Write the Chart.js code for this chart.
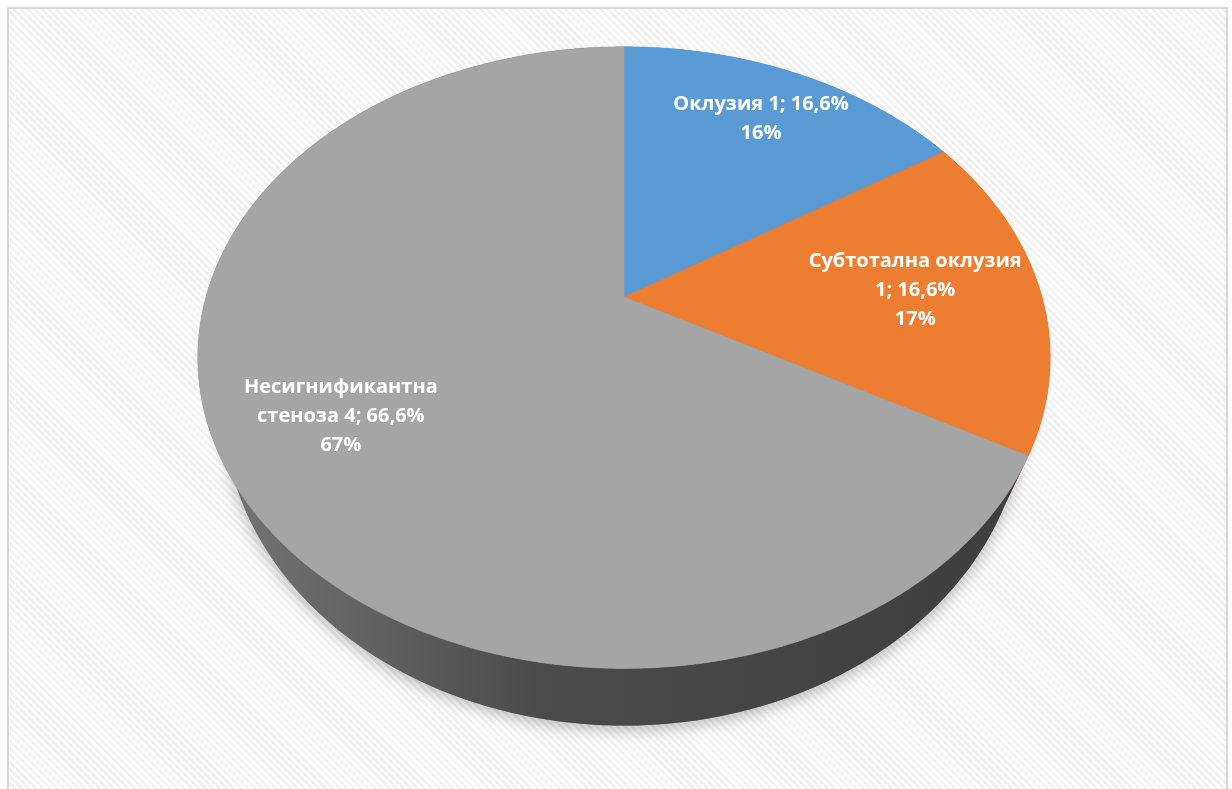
<!DOCTYPE html>
<html>
<head>
<meta charset="utf-8">
<script src="https://cdn.jsdelivr.net/npm/chart.js@4.4.1/dist/chart.umd.min.js"></script>
<style>
  body { margin: 0; background: #fff; overflow: hidden; }
  .frame {
    position: absolute; left: 7px; top: 7px; width: 1217px; height: 800px;
    border: 2px solid #d9d9d9;
    background: repeating-linear-gradient(45deg, #ffffff 0 2.5px, #f0f0f0 2.5px 5px);
  }
  #chart { position: absolute; left: 0; top: 0; }
</style>
</head>
<body>
<div class="frame"></div>
<canvas id="chart" width="1232" height="789"></canvas>
<script>
  const categories = [
    ['Оклузия 1; 16,6%'],
    ['Субтотална оклузия', '1; 16,6%'],
    ['Несигнификантна', 'стеноза 4; 66,6%']
  ];
  const shares = [16, 17, 67];

  const topColors = ['#5b9bd5', '#ed7d31', '#a5a5a5'];
  const sideColors = ['#3f6f9c', '#a9541c', null];
  const labelRadius = [0.77, 0.70, 0.73];

  // tilted disc in perspective: centre, radii, perspective factor, thickness,
  // and how far the lower rim pulls in towards the middle
  const CX = 624, CY = 297, RX = 418, RY = 299, K = 0.195, DEPTH = 46, PULL = 0.06;

  function project(u, v) {
    const w = 1 - K * v;
    const x = CX + RX * u / w, y = CY + RY * v / w;
    return [x, y, x - (x - CX) * PULL, y + DEPTH / w];
  }

  function arcPoints(a0, a1, r) {
    const n = Math.max(2, Math.ceil((a1 - a0) / 0.01));
    const pts = [];
    for (let i = 0; i <= n; i++) {
      const a = a0 + (a1 - a0) * i / n;
      pts.push(project(r * Math.cos(a), r * Math.sin(a)));
    }
    return pts;
  }

  function sideFill(ctx, i) {
    if (sideColors[i]) return sideColors[i];
    const g = ctx.createLinearGradient(210, 0, 1030, 0);
    g.addColorStop(0, '#767676');
    g.addColorStop(0.4, '#4b4b4b');
    g.addColorStop(1, '#3e3e3e');
    return g;
  }

  const pie3d = {
    id: 'pie3d',
    beforeDatasetsDraw(chart) {
      const ctx = chart.ctx;
      const arcs = chart.getDatasetMeta(0).data;

      // soft shadow under the whole disc
      ctx.save();
      ctx.shadowColor = 'rgba(0,0,0,0.28)';
      ctx.shadowBlur = 16;
      ctx.shadowOffsetY = 4;
      ctx.fillStyle = '#777';
      ctx.beginPath();
      arcPoints(-Math.PI, Math.PI, 1).forEach(([x, y, bx, by], j) => j ? ctx.lineTo(bx, by) : ctx.moveTo(bx, by));
      ctx.closePath();
      ctx.fill();
      ctx.restore();

      // outer walls
      arcs.forEach((arc, i) => {
        const pts = arcPoints(arc.startAngle, arc.endAngle, 1);
        ctx.beginPath();
        pts.forEach(([x, y], j) => j ? ctx.lineTo(x, y) : ctx.moveTo(x, y));
        for (let j = pts.length - 1; j >= 0; j--) ctx.lineTo(pts[j][2], pts[j][3]);
        ctx.closePath();
        ctx.fillStyle = sideFill(ctx, i);
        ctx.fill();
      });

      // top faces
      arcs.forEach((arc, i) => {
        const pts = arcPoints(arc.startAngle, arc.endAngle, 1);
        ctx.beginPath();
        ctx.moveTo(CX, CY);
        pts.forEach(([x, y]) => ctx.lineTo(x, y));
        ctx.closePath();
        ctx.fillStyle = arc.options.backgroundColor;
        ctx.strokeStyle = arc.options.backgroundColor;
        ctx.lineWidth = 0.6;
        ctx.fill();
        ctx.stroke();
      });

      // labels: category lines plus rounded share
      const total = shares.reduce((s, v) => s + v, 0);
      ctx.fillStyle = '#fff';
      ctx.font = 'bold 20px "Open Sans", sans-serif';
      ctx.textAlign = 'center';
      ctx.textBaseline = 'middle';
      arcs.forEach((arc, i) => {
        const mid = (arc.startAngle + arc.endAngle) / 2;
        const r = labelRadius[i];
        const [x, y] = project(r * Math.cos(mid), r * Math.sin(mid));
        const lines = categories[i].concat(Math.round(shares[i] / total * 100) + '%');
        const lh = 29;
        lines.forEach((t, j) => ctx.fillText(t, x, y + (j - (lines.length - 1) / 2) * lh));
      });
      return false;
    }
  };

  new Chart(document.getElementById('chart'), {
    type: 'pie',
    data: {
      labels: categories,
      datasets: [{ data: shares, backgroundColor: topColors, borderWidth: 0 }]
    },
    options: {
      responsive: false,
      animation: false,
      events: [],
      plugins: { legend: { display: false }, tooltip: { enabled: false } }
    },
    plugins: [pie3d]
  });
</script>
</body>
</html>
